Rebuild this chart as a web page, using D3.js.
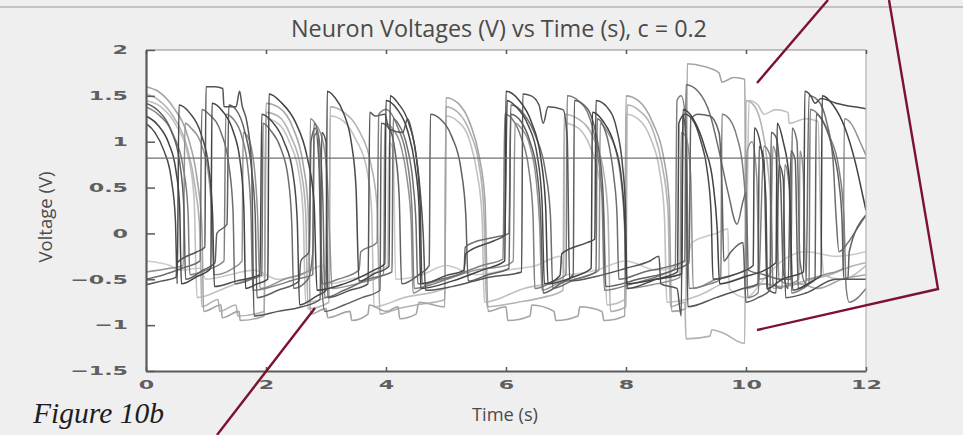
<!DOCTYPE html>
<html><head><meta charset="utf-8">
<script src="https://cdn.jsdelivr.net/npm/d3@7"></script>
<style>body{margin:0;background:#efefef;overflow:hidden}svg{display:block}</style>
</head><body>
<svg id="chart" width="963" height="435"></svg>
<script>
// ---------- data ----------
const chartTitle = "Neuron Voltages (V) vs Time (s), c = 0.2";
const xLabel = "Time (s)";
const yLabel = "Voltage (V)";
const figureLabel = "Figure 10b";
const xTicks = [0, 2, 4, 6, 8, 10, 12];
const yTicks = [-1.5, -1, -0.5, 0, 0.5, 1, 1.5, 2];
const thresholdV = 0.82;

// [time (s), voltage (V)]
const trace1 = [[0,1.28],[0.2,1.18],[0.38,0.98],[0.5,0.68],[0.56,0.3],[0.59,-0.55],
[0.85,-0.47],[1.08,-0.38],[1.1,1.42],[1.28,1.33],[1.45,1.12],[1.57,0.78],[1.63,0.3],[1.66,-0.6],
[1.85,-0.55],[2.03,-0.5],[2.05,1.52],[2.25,1.43],[2.5,1.2],[2.68,0.85],[2.8,0.35],[2.85,-0.62],
[3.3,-0.55],[3.8,-0.4],[3.98,-0.33],[4.0,1.45],[4.18,1.36],[4.36,1.12],[4.48,0.75],[4.55,0.3],[4.58,-0.6],
[5.1,-0.52],[5.6,-0.4],[5.98,-0.3],[6.0,1.55],[6.22,1.45],[6.42,1.22],[6.58,0.82],[6.66,0.3],[6.7,-0.55],
[7.1,-0.48],[7.42,-0.38],[7.44,1.32],[7.62,1.22],[7.8,0.98],[7.92,0.62],[7.98,0.1],[8.01,-0.55],
[8.5,-0.5],[8.93,-0.44],[8.95,1.35],[9.12,1.25],[9.32,0.92],[9.45,0.55],[9.52,0.05],[9.56,-0.55],
[9.95,-0.48],[10.5,-0.32],[10.52,1.2],[10.62,1.0],[10.72,0.6],[10.78,-0.62],
[11.1,-0.52],[11.25,-0.46],[11.27,1.5],[11.45,1.4],[11.65,1.15],[11.82,0.78],[11.95,0.4],[12,0.25]];

const trace2 = [[0,1.2],[0.15,1.1],[0.3,0.9],[0.42,0.6],[0.49,0.15],[0.52,-0.55],
[0.55,1.4],[0.72,1.32],[0.92,1.08],[1.05,0.7],[1.11,0.2],[1.14,-0.58],
[1.5,-0.52],[1.9,-0.45],[1.93,1.3],[2.1,1.22],[2.3,1.0],[2.45,0.65],[2.52,0.15],[2.56,-0.78],
[2.85,-0.68],[3.0,-0.62],[3.02,1.55],[3.15,1.48],[3.3,1.3],[3.42,1.0],[3.5,0.5],[3.55,-0.52],
[3.8,-0.44],[4.05,-0.36],[4.07,1.5],[4.2,1.42],[4.38,1.2],[4.5,0.85],[4.57,0.3],[4.6,-0.55],
[5.0,-0.46],[5.3,-0.4],[5.33,-0.22],[5.8,-0.08],[5.98,-0.02],[6.02,1.45],[6.17,1.38],[6.37,1.18],[6.52,0.85],[6.6,0.35],[6.64,-0.55],
[6.9,-0.46],[6.93,-0.22],[7.35,-0.1],[7.48,-0.06],[7.5,1.45],[7.68,1.38],[7.84,1.15],[7.94,0.75],[7.99,0.3],[8.02,-0.6],
[8.5,-0.5],[8.86,-0.42],[8.88,1.2],[8.98,1.3],[9.1,1.25],[9.25,1.0],[9.35,0.7],[9.42,0.2],[9.45,-0.5],
[9.8,-0.45],[10.12,-0.35],[10.14,1.15],[10.26,0.9],[10.33,0.4],[10.36,-0.6],
[10.6,-0.5],[10.96,-0.42],[10.98,1.55],[11.08,1.5],[11.15,1.42],[11.25,1.47],[11.5,1.42],[11.8,1.38],[12,1.36]];

const trace3 = [[0,-0.56],[0.25,-0.52],[0.5,-0.48],[0.52,-0.32],[0.85,-0.2],[0.98,-0.15],[1.0,1.6],[1.15,1.6],[1.28,1.58],[1.3,1.38],[1.5,1.38],[1.56,1.55],[1.6,1.4],[1.68,1.22],[1.76,0.75],[1.8,-0.9],
[2.2,-0.85],[2.6,-0.8],[2.9,-0.72],[2.93,1.1],[3.0,1.0],[3.03,-0.7],
[3.4,-0.62],[3.7,-0.55],[3.73,1.32],[3.82,1.28],[3.98,1.3],[4.05,1.14],[4.28,1.1],[4.36,1.25],[4.44,1.08],[4.55,0.6],[4.62,0.0],[4.66,-0.62],
[5.1,-0.58],[5.7,-0.48],[6.26,-0.42],[6.28,1.52],[6.42,1.5],[6.55,1.4],[6.62,1.2],[6.7,1.38],[6.95,1.35],[7.02,1.05],[7.06,-0.52],
[7.5,-0.47],[8.0,-0.38],[8.4,-0.3],[8.55,-0.25],[8.58,-0.55],[8.85,-0.6],[8.92,-0.9],[8.95,1.3],[9.0,1.0],[9.03,-0.8],
[9.5,-0.7],[9.95,-0.6],[10.2,-0.55],[10.22,0.95],[10.3,0.8],[10.35,-0.6],[10.5,-0.65],[10.55,0.75],[10.62,0.6],[10.66,-0.7],[11.0,-0.65],[11.5,-0.5],[12,-0.5]];

const trace4 = [[0,1.42],[0.2,1.34],[0.42,1.12],[0.56,0.78],[0.63,0.3],[0.66,-0.5],
[0.95,-0.4],[1.15,-0.32],[1.18,0.0],[1.35,0.1],[1.38,1.4],[1.5,1.35],[1.65,1.1],[1.76,0.7],[1.82,0.2],[1.85,-0.7],
[2.2,-0.62],[2.55,-0.52],[2.58,-0.3],[2.72,-0.2],[2.75,1.0],[2.82,1.15],[2.88,0.8],[2.92,-0.4],[2.98,-0.85],
[3.3,-0.78],[3.6,-0.7],[3.9,-0.62],[3.92,1.2],[4.05,1.15],[4.15,0.9],[4.22,0.4],[4.26,-0.55],
[4.55,-0.45],[4.72,-0.35],[4.74,1.3],[4.9,1.25],[5.1,1.05],[5.25,0.7],[5.33,0.2],[5.37,-0.52],
[5.7,-0.45],[6.05,-0.38],[6.08,1.3],[6.25,1.22],[6.4,1.0],[6.52,0.65],[6.58,0.15],[6.62,-0.65],
[6.9,-0.55],[7.12,-0.45],[7.14,1.45],[7.3,1.4],[7.45,1.22],[7.55,0.9],[7.62,0.4],[7.66,-0.58],
[8.2,-0.5],[8.8,-0.4],[9.05,-0.32],[9.08,1.25],[9.2,1.3],[9.4,1.28],[9.55,1.1],[9.6,0.5],[9.63,-0.3],[9.75,-0.2],[9.95,-0.1],[10.0,-0.75],
[10.2,-0.7],[10.4,-0.62],[10.42,1.1],[10.5,1.05],[10.58,0.5],[10.62,-0.4],[10.7,-0.6],[10.75,0.9],[10.82,0.8],[10.87,-0.6],
[11.05,-0.55],[11.15,-0.5],[11.17,1.3],[11.3,1.2],[11.45,0.9],[11.55,0.55],[11.6,0.15],[11.63,-0.5],[11.7,-0.48],[11.72,-0.2],[12,0.2]];

const trace5 = [[0,-0.5],[0.3,-0.45],[0.6,-0.38],[0.9,-0.3],[0.93,1.35],[1.05,1.3],[1.25,1.1],[1.38,0.75],[1.45,0.25],[1.48,-0.55],
[1.75,-0.5],[1.93,-0.45],[1.95,1.2],[2.08,1.12],[2.25,0.92],[2.37,0.6],[2.43,0.1],[2.46,-0.6],
[2.7,-0.5],[2.78,-0.2],[2.8,1.2],[2.88,1.05],[2.95,0.3],[2.98,-0.7],
[3.3,-0.62],[3.7,-0.5],[4.1,-0.42],[4.12,1.25],[4.2,1.2],[4.35,0.95],[4.45,0.55],[4.5,0.1],[4.53,-0.55],
[4.9,-0.5],[5.3,-0.42],[5.32,-0.15],[5.45,-0.1],[5.75,-0.05],[6.05,0.0],[6.08,1.4],[6.3,1.3],[6.5,1.05],[6.65,0.7],[6.74,0.2],[6.78,-0.6],
[7.15,-0.5],[7.5,-0.42],[7.52,1.25],[7.6,1.2],[7.72,0.95],[7.8,0.6],[7.85,0.2],[7.88,-0.5],
[8.3,-0.42],[8.98,-0.3],[9.0,1.62],[9.2,1.55],[9.4,1.3],[9.55,0.9],[9.7,0.45],[9.85,0.1],[9.95,0.35],[10.0,0.45],[10.04,-0.4],
[10.3,-0.45],[10.6,-0.5],[10.75,-0.5],[10.77,1.15],[10.85,1.0],[10.9,-0.3],[11.0,-0.55],[11.05,1.5],[11.2,1.45],[11.35,1.2],[11.45,0.8],[11.5,0.2],[11.55,-0.2],[11.7,-0.1],[11.85,0.05],[12,0.2]];

const trace6 = [[0,1.38],[0.2,1.3],[0.45,1.08],[0.62,0.72],[0.7,0.25],[0.73,-0.45],
[1.0,-0.4],[1.3,-0.3],[1.33,1.3],[1.45,1.25],[1.6,1.05],[1.7,0.7],[1.75,0.2],[1.78,-0.62],
[2.1,-0.58],[2.5,-0.5],[2.78,-0.45],[2.8,1.05],[2.86,1.1],[2.9,0.6],[2.94,-0.55],
[3.2,-0.5],[3.55,-0.4],[3.58,-0.2],[3.85,-0.1],[3.88,1.3],[4.0,1.35],[4.2,1.15],[4.35,0.8],[4.43,0.3],[4.47,-0.6],
[4.8,-0.55],[5.2,-0.45],[5.6,-0.35],[5.95,-0.28],[5.98,1.3],[6.1,1.25],[6.25,1.05],[6.38,0.7],[6.45,0.2],[6.48,-0.6],
[6.8,-0.52],[7.0,-0.45],[7.02,1.5],[7.2,1.45],[7.4,1.25],[7.52,0.9],[7.6,0.4],[7.64,-0.62],
[8.1,-0.55],[8.6,-0.45],[8.82,-0.38],[8.85,1.45],[8.92,1.5],[9.0,1.2],[9.05,-0.6],
[9.4,-0.55],[9.58,-0.5],[9.6,1.3],[9.72,1.25],[9.85,1.05],[9.95,0.7],[10.0,0.2],[10.03,-0.7],
[10.2,-0.65],[10.3,0.95],[10.4,0.85],[10.45,-0.55],[10.6,-0.6],[10.65,0.75],[10.72,0.5],[10.76,-0.65],
[10.95,-0.6],[11.05,-0.55],[11.07,1.35],[11.2,1.3],[11.4,1.05],[11.55,0.7],[11.63,0.2],[11.67,-0.6],[11.72,-0.75],[12,-0.6]];

const trace7 = [[0,-0.42],[0.4,-0.38],[0.62,-0.35],[0.65,1.2],[0.75,1.15],[0.95,0.92],[1.05,0.6],[1.1,0.15],[1.13,-0.45],
[1.45,-0.38],[1.6,-0.3],[1.62,1.1],[1.7,1.05],[1.8,0.75],[1.86,0.2],[1.9,-0.6],
[2.3,-0.5],[2.72,-0.4],[2.74,1.25],[2.82,1.2],[2.95,1.0],[3.02,0.6],[3.06,0.0],[3.1,-0.6],
[3.5,-0.55],[3.96,-0.45],[3.98,1.2],[4.1,1.15],[4.25,0.95],[4.35,0.6],[4.42,0.1],[4.45,-0.65],
[4.7,-0.55],[5.0,-0.5],[5.5,-0.4],[6.0,-0.35],[6.12,-0.3],[6.15,1.2],[6.25,1.15],[6.4,0.95],[6.5,0.6],[6.56,0.1],[6.6,-0.62],
[6.85,-0.55],[7.4,-0.45],[7.55,-0.4],[7.57,1.2],[7.7,1.1],[7.85,0.85],[7.93,0.5],[7.98,0.0],[8.0,-0.6],
[8.5,-0.55],[8.9,-0.48],[8.92,1.1],[9.0,1.05],[9.08,0.6],[9.12,-0.6],
[9.5,-0.5],[9.98,-0.4],[10.02,0.9],[10.1,1.0],[10.18,0.6],[10.22,-0.5],[10.4,-0.45],[10.45,0.95],[10.5,0.85],[10.55,-0.5],[10.7,-0.55],[10.88,-0.5],[10.9,0.9],[10.95,0.7],[11.0,-0.5],
[11.3,-0.45],[11.62,-0.38],[11.64,1.25],[11.75,1.2],[11.9,1.0],[12,0.85]];

const light1 = [[0,1.6],[0.2,1.55],[0.45,1.38],[0.7,1.05],[0.85,0.6],[0.93,0.1],[0.96,-0.85],
[1.25,-0.78],[1.27,-0.92],[1.55,-0.85],[1.57,-0.95],[1.97,-0.9],
[2.0,1.42],[2.2,1.38],[2.45,1.15],[2.62,0.75],[2.7,0.3],[2.74,-0.88],
[3.0,-0.82],[3.03,-0.92],[3.4,-0.85],[3.43,-0.95],[3.7,-0.88],[3.72,-0.78],[4.0,-0.85],[4.2,-0.8],[4.23,-0.93],[4.5,-0.88],[4.55,-0.75],[4.98,-0.8],
[5.0,1.48],[5.2,1.42],[5.4,1.2],[5.55,0.85],[5.65,0.35],[5.7,-0.85],
[6.0,-0.8],[6.03,-0.95],[6.4,-0.9],[6.43,-0.78],[6.8,-0.85],[6.83,-0.95],[7.2,-0.9],[7.23,-0.8],[7.6,-0.85],[7.63,-0.95],[7.98,-0.9],
[8.0,1.5],[8.2,1.45],[8.45,1.2],[8.62,0.85],[8.72,0.35],[8.76,-0.85],
[9.0,-0.82],[9.02,1.85],[9.3,1.82],[9.55,1.75],[9.6,1.65],[9.8,1.7],[9.98,1.68],[10.0,-0.6],
[10.3,-0.55],[10.6,-0.58],[10.9,-0.55],[11.2,-0.6],[11.6,-0.5],[12,-0.45]];

const light2 = [[0,1.52],[0.2,1.46],[0.45,1.28],[0.68,0.95],[0.82,0.5],[0.9,0.0],[0.93,-0.8],
[1.2,-0.72],[1.23,-0.85],[1.5,-0.78],[1.53,-0.9],[1.97,-0.85],
[2.0,1.32],[2.2,1.28],[2.42,1.05],[2.58,0.7],[2.66,0.25],[2.7,-0.82],
[3.05,-0.75],[3.07,1.38],[3.3,1.32],[3.55,1.12],[3.75,0.75],[3.85,0.3],[3.9,-0.88],
[4.2,-0.82],[4.5,-0.78],[4.98,-0.72],
[5.0,1.38],[5.2,1.32],[5.4,1.1],[5.55,0.75],[5.63,0.25],[5.68,-0.8],
[6.2,-0.75],[6.6,-0.7],[6.95,-0.62],
[6.97,1.3],[7.2,1.25],[7.45,1.05],[7.62,0.7],[7.7,0.2],[7.74,-0.85],
[8.0,-0.8],[8.02,1.4],[8.2,1.35],[8.45,1.12],[8.6,0.75],[8.7,0.25],[8.74,-0.8],
[8.98,-0.75],[9.0,-1.15],[9.4,-1.12],[9.43,-1.05],[9.6,-1.08],[9.98,-1.2],[10.0,1.45],
[10.1,1.42],[10.25,1.2],[10.35,0.8],[10.42,0.2],[10.45,-0.6],
[10.8,-0.55],[11.1,-0.5],[11.4,-0.45],[11.8,-0.35],[12,-0.32]];

const light3 = [[0,1.45],[0.25,1.38],[0.5,1.18],[0.7,0.85],[0.8,0.4],[0.85,-0.7],
[1.3,-0.6],[1.7,-0.5],[1.98,-0.45],[2.0,1.25],[2.2,1.2],[2.4,0.98],[2.55,0.65],[2.62,0.2],[2.66,-0.75],
[3.05,-0.68],[3.07,1.28],[3.3,1.22],[3.5,1.02],[3.68,0.7],[3.76,0.25],[3.8,-0.8],
[4.3,-0.7],[4.98,-0.6],[5.0,1.28],[5.2,1.22],[5.4,1.0],[5.52,0.65],[5.6,0.2],[5.64,-0.75],
[6.3,-0.6],[6.96,-0.5],[6.98,1.2],[7.2,1.15],[7.4,0.95],[7.55,0.62],[7.63,0.2],[7.68,-0.78],
[7.98,-0.72],[8.0,1.3],[8.2,1.25],[8.42,1.02],[8.56,0.68],[8.64,0.2],[8.68,-0.75],
[9.2,-0.68],[9.6,-0.55],[10.0,-0.45],[10.05,1.45],[10.2,1.4],[10.3,1.3],[10.5,1.35],[10.7,1.32],[10.72,1.2],[11.0,1.25],[11.2,1.22],[11.25,0.0],[11.3,-0.45],[11.6,-0.5],[12,-0.35]];

const light4 = [[0,-0.3],[0.4,-0.35],[0.55,-0.4],[0.9,-0.38],[1.0,-0.5],[1.4,-0.45],[1.8,-0.4],[2.2,-0.5],[2.6,-0.45],[2.95,-0.35],[3.05,-0.55],
[3.4,-0.5],[3.9,-0.4],[4.02,-0.35],[4.05,1.0],[4.12,0.9],[4.16,-0.5],[4.6,-0.45],[5.0,-0.35],[5.5,-0.45],[6.0,-0.4],[6.5,-0.35],[6.9,-0.25],[7.0,-0.45],
[7.5,-0.4],[8.0,-0.3],[8.5,-0.4],[9.0,-0.3],[9.1,-0.1],[9.5,0.0],[9.7,0.05],[9.72,-0.6],[10.0,-0.7],[10.3,-0.5],[10.6,-0.3],[11.0,-0.2],[11.5,-0.25],[12,-0.2]];

// drawing order: light first, dark last
const traces = [light4, light3, light2, light1, trace7, trace6, trace5, trace4, trace3, trace2, trace1];
const traceColors = ["#cbcbcb", "#c1c1c1", "#b3b3b3", "#a5a5a5", "#929292", "#7e7e7e", "#6e6e6e", "#606060", "#545454", "#4a4a4a", "#424242"];

// annotation leader lines (pixel space of the page figure)
const leaderLines = [
  [[828, 0], [757, 83]],
  [[889, 0], [938, 289], [757, 330]],
  [[315, 308], [217, 435]]
];

// ---------- drawing ----------
const svg = d3.select("#chart");
const W = 963, H = 435;
const m = {left: 146, right: 866, top: 50, bottom: 371};

svg.append("rect").attr("width", W).attr("height", H).attr("fill", "#efefef");
svg.append("line").attr("x1", 0).attr("x2", W).attr("y1", 7).attr("y2", 7)
  .attr("stroke", "#b4b4b4").attr("stroke-width", 1.5);

const x = d3.scaleLinear().domain([0, 12]).range([m.left, m.right]);
const y = d3.scaleLinear().domain([-1.5, 2]).range([m.bottom, m.top]);

svg.append("rect").attr("x", m.left).attr("y", m.top)
  .attr("width", m.right - m.left).attr("height", m.bottom - m.top).attr("fill", "#ffffff");

const defs = svg.append("defs");
defs.append("clipPath").attr("id", "clip").append("rect")
  .attr("x", m.left).attr("y", m.top).attr("width", m.right - m.left).attr("height", m.bottom - m.top);
const f = defs.append("filter").attr("id", "soft").attr("x", "-5%").attr("y", "-5%").attr("width", "110%").attr("height", "110%");
f.append("feGaussianBlur").attr("stdDeviation", 0.55);

const line = d3.line().x(d => x(d[0])).y(d => y(d[1])).curve(d3.curveMonotoneX);

const g = svg.append("g").attr("clip-path", "url(#clip)");
const gt = g.append("g").attr("filter", "url(#soft)");
gt.selectAll("path.trace").data(traces).join("path")
  .attr("class", "trace")
  .attr("d", line)
  .attr("fill", "none")
  .attr("stroke", (d, i) => traceColors[i])
  .attr("stroke-width", (d, i) => i < 4 ? 1.6 : 1.5)
  .attr("stroke-linejoin", "round");

// threshold line
g.append("line").attr("x1", x(0)).attr("x2", x(12)).attr("y1", y(thresholdV)).attr("y2", y(thresholdV))
  .attr("stroke", "#707070").attr("stroke-width", 1.3);

// frame
svg.append("line").attr("x1", m.left).attr("x2", m.right).attr("y1", m.top).attr("y2", m.top)
  .attr("stroke", "#8a8a8a").attr("stroke-width", 1.2);
svg.append("line").attr("x1", m.right).attr("x2", m.right).attr("y1", m.top).attr("y2", m.bottom)
  .attr("stroke", "#b0b0b0").attr("stroke-width", 1.2);

const fmt = d3.format("~g");

// bottom axis
const xAxis = svg.append("g").attr("transform", `translate(0,${m.bottom})`)
  .call(d3.axisBottom(x).tickValues(xTicks).tickSize(-4).tickSizeOuter(0).tickPadding(9).tickFormat(fmt));
// top ticks
const xTop = svg.append("g").attr("transform", `translate(0,${m.top})`)
  .call(d3.axisTop(x).tickValues(xTicks).tickSize(-4).tickSizeOuter(0).tickFormat(""));
xTop.select(".domain").remove();
xTop.selectAll("line").attr("stroke", "#555").attr("stroke-width", 1.5);

// left axis
const yAxis = svg.append("g").attr("transform", `translate(${m.left},0)`)
  .call(d3.axisLeft(y).tickValues(yTicks).tickSize(-9).tickSizeOuter(0).tickPadding(18).tickFormat(fmt));

[xAxis, yAxis].forEach(a => {
  a.select(".domain").attr("stroke", "#5a5a5a").attr("stroke-width", 2.2);
  a.selectAll(".tick line").attr("stroke", "#5a5a5a").attr("stroke-width", 1.5);
  a.selectAll(".tick text")
    .attr("fill", "#5f5f5f")
    .style("font-family", "'DejaVu Sans', sans-serif")
    .style("font-weight", "bold")
    .style("font-size", "12px");
});
// squat, wide tick labels as in the reference
yAxis.selectAll(".tick text").each(function() {
  const t = d3.select(this);
  const xx = +t.attr("x");
  t.attr("x", 0).attr("transform", `translate(${xx},0) scale(1.85,1)`);
});
xAxis.selectAll(".tick text").each(function() {
  const t = d3.select(this);
  const yy = +t.attr("y");
  t.attr("y", 0).attr("transform", `translate(0,${yy}) scale(1.85,1)`);
});

// fit text helper
function fitText(sel, targetW) {
  const w = sel.node().getComputedTextLength();
  const fs = parseFloat(sel.style("font-size"));
  sel.style("font-size", (fs * targetW / w).toFixed(2) + "px");
}

const title = svg.append("text").attr("x", 499).attr("y", 37).attr("text-anchor", "middle")
  .attr("fill", "#4a4a4a").style("font-family", "'Open Sans', sans-serif").style("font-size", "16px")
  .text(chartTitle);
fitText(title, 416);

const xl = svg.append("text").attr("x", 505).attr("y", 421).attr("text-anchor", "middle")
  .attr("fill", "#4a4a4a").style("font-family", "'Open Sans', sans-serif").style("font-size", "16px")
  .text(xLabel);
fitText(xl, 66);

const yl = svg.append("text").attr("transform", "translate(52,217) rotate(-90)").attr("text-anchor", "middle")
  .attr("fill", "#4a4a4a").style("font-family", "'Open Sans', sans-serif").style("font-size", "16px")
  .text(yLabel);
fitText(yl, 91);

const fig = svg.append("text").attr("x", 33).attr("y", 423)
  .attr("fill", "#1e1e1e").style("font-family", "'Liberation Serif', 'DejaVu Serif', serif")
  .style("font-style", "italic").style("font-size", "24px")
  .text(figureLabel);
fitText(fig, 131);

// maroon leader lines
svg.selectAll("path.leader").data(leaderLines).join("path")
  .attr("class", "leader")
  .attr("d", d3.line())
  .attr("fill", "none")
  .attr("stroke", "#7d1230")
  .attr("stroke-width", 2.4)
  .attr("stroke-linejoin", "miter");
</script>
</body></html>
